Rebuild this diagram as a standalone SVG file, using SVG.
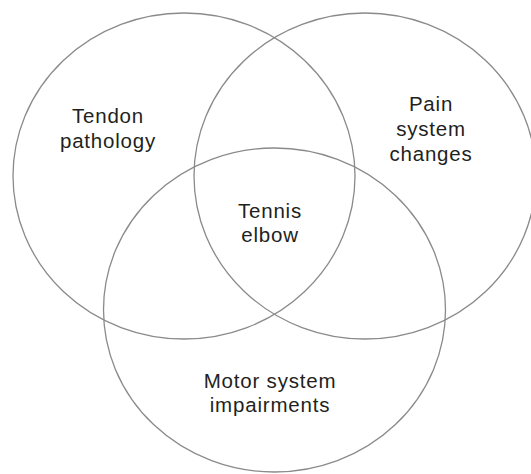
<svg xmlns="http://www.w3.org/2000/svg" width="531" height="474" viewBox="0 0 531 474">
<style>
.c{fill:none;stroke:#8a8a8a;stroke-width:1.3}
.t{font-family:"Liberation Sans",Arial,sans-serif;font-size:20.5px;fill:#231f20;text-anchor:middle;letter-spacing:0.8px}
</style>
<rect width="531" height="474" fill="#fff"/>
<g id="tendon">
<ellipse class="c" cx="184" cy="176" rx="171" ry="163"/>
<text class="t" x="108" y="123">Tendon</text>
<text class="t" x="108" y="148">pathology</text>
</g>
<g id="pain">
<ellipse class="c" cx="365" cy="176" rx="171" ry="163"/>
<text class="t" x="431" y="111">Pain</text>
<text class="t" x="431" y="136">system</text>
<text class="t" x="431" y="161">changes</text>
</g>
<g id="motor">
<ellipse class="c" cx="274.5" cy="310" rx="171" ry="162"/>
<text class="t" x="270" y="388">Motor system</text>
<text class="t" x="270" y="412">impairments</text>
</g>
<g id="center">
<text class="t" x="270" y="218">Tennis</text>
<text class="t" x="270" y="242">elbow</text>
</g>
<g id="connectors"/>
</svg>
